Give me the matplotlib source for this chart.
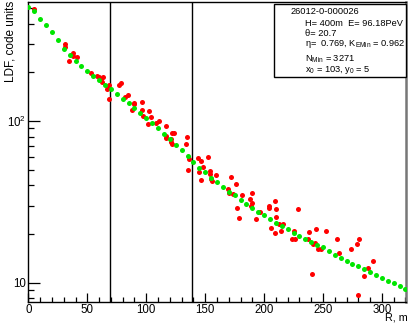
import matplotlib
matplotlib.use('Agg')
import matplotlib.pyplot as plt
from matplotlib.ticker import FixedLocator, FixedFormatter, MultipleLocator, NullFormatter
import numpy as np

plt.rcParams['font.family'] = ['Liberation Sans', 'DejaVu Sans']
plt.rcParams['mathtext.fontset'] = 'custom'
plt.rcParams['mathtext.rm'] = 'Liberation Sans'
plt.rcParams['mathtext.it'] = 'Liberation Sans:italic'

# model LDF (green), every 5 m
r_fit = np.arange(0, 325, 5)
ldf_fit = [509, 481, 429, 394, 355, 317, 280, 257, 235, 218,
           204, 190, 178, 166, 157, 147, 137, 129, 121, 112,
           105, 97.6, 90.8, 83.3, 77.0, 71.0, 66.2, 60.7, 56.0, 51.2,
           48.2, 44.6, 42.0, 38.9, 36.6, 34.7, 32.3, 30.7, 29.0, 27.4,
           26.1, 24.7, 23.5, 22.4, 21.4, 20.4, 19.5, 18.7, 17.9, 17.2,
           16.5, 15.6, 14.9, 14.3, 13.7, 13.1, 12.6, 12.1, 11.6, 11.1,
           10.7, 10.3, 9.96, 9.54, 9.14]

# measured detector values (red)
r_det = [5, 31.1, 30.7, 37.6, 38.1, 41.6, 34.8, 53.0, 58.1, 60.1,
         62.9, 61.5, 62.4, 68.3, 67.1, 66.3, 68.6, 76.7, 78.4, 81.6,
         84.5, 89.4, 90.0, 96.3, 88.2, 96.3, 102.4, 97.3, 104.3, 101.5,
         108.2, 110.5, 117.1, 121.8, 123.3, 116.7, 117.1, 121.1, 121.4, 122.2,
         134.8, 133.9, 136.1, 135.3, 144.1, 146.1, 152.3, 147.8, 144.6, 154.3,
         154.3, 158.9, 146.4, 155.2, 155.9, 171.6, 175.9, 169.5, 170.4, 173.6,
         181.0, 189.7, 188.4, 190.1, 188.7, 176.7, 178.7, 193.5, 196.6, 204.6,
         204.4, 209.1, 210.0, 210.1, 206.3, 208.9, 212.5, 215.9, 214.0, 229.0,
         225.6, 223.9, 226.6, 238.5, 244.3, 237.4, 241.5, 242.9, 245.6, 248.0,
         252.6, 261.7, 263.2, 273.9, 279.0, 280.4, 241.1, 292.6, 288.3, 284.9,
         279.8]
ldf_det = [491, 298, 285, 262, 251, 247, 236, 199, 191, 188,
           187, 183, 173, 168, 162, 157, 136, 167, 171, 141,
           144, 130, 127, 131, 117, 117, 116, 108, 106, 96.2,
           96.9, 99.3, 93.4, 84.1, 84.3, 80.2, 78.3, 77.4, 74.2, 71.6,
           79.3, 72.3, 58.0, 50.0, 58.8, 56.8, 59.9, 52.2, 48.4, 48.9,
           47.0, 46.6, 43.0, 44.0, 42.6, 44.9, 40.6, 38.0, 35.8, 35.3,
           34.7, 35.7, 32.7, 31.1, 29.9, 28.8, 25.2, 24.8, 27.3, 29.9,
           29.0, 31.9, 28.4, 25.6, 21.9, 20.2, 23.0, 23.0, 21.0, 28.5,
           20.9, 18.6, 18.6, 20.5, 21.6, 18.6, 17.3, 17.6, 16.1, 16.1,
           20.8, 18.6, 15.2, 16.1, 17.3, 18.6, 11.3, 13.7, 12.4, 11.0,
           8.4]

r_lines = [69.5, 139]

info = ['26012-0-000026',
        'H= 400m  E= 96.18PeV',
        '\u03b8= 20.7',
        '\u03b7=  0.769, K$_{\\mathregular{EMin}}$ = 0.962',
        'N$_{\\mathregular{Min}}$ = 3271',
        'x$_{\\mathregular{0}}$ = 103, y$_{\\mathregular{0}}$ = 5']

fig = plt.figure(figsize=(4.14, 3.23), dpi=100)
ax = fig.add_axes([0.0688, 0.0641, 0.9119, 0.9288])

ax.scatter(r_det, ldf_det, s=13, color='#ff0000', linewidths=0, zorder=3)
ax.scatter(r_fit, ldf_fit, s=13, color='#00e600', linewidths=0, zorder=4)
for r in r_lines:
    ax.axvline(r, color='black', lw=1.0, zorder=2)

ax.set_yscale('log')
ax.set_xlim(0, 320.5)
ax.set_ylim(7.56, 542)

ax.xaxis.set_major_locator(FixedLocator([0, 50, 100, 150, 200, 250, 300]))
ax.xaxis.set_minor_locator(MultipleLocator(10))
ax.yaxis.set_major_locator(FixedLocator([10, 100]))
ax.yaxis.set_major_formatter(FixedFormatter(['10', '10$^{\\mathregular{2}}$']))
minors = [8, 9] + list(range(20, 100, 10)) + list(range(200, 600, 100))
ax.yaxis.set_minor_locator(FixedLocator(minors))
ax.yaxis.set_minor_formatter(NullFormatter())

ax.tick_params(axis='both', which='both', direction='in', labelsize=8.3, width=0.9)
ax.tick_params(axis='x', which='major', length=6.5, pad=1.5)
ax.tick_params(axis='x', which='minor', length=3.6)
ax.tick_params(axis='y', which='major', length=8.6, pad=2)
ax.tick_params(axis='y', which='minor', length=4.3)
for sp in ax.spines.values():
    sp.set_linewidth(1.0)
ax.spines['right'].set_color('#777777')
ax.spines['right'].set_linewidth(1.8)

fig.text(0.012, 0.998, 'LDF, code units', rotation=90, ha='left', va='top', fontsize=8.5)
fig.text(0.985, 0.0, 'R, m', ha='right', va='bottom', fontsize=7.8)

# info box
box = plt.Rectangle((274 / 414, 1 - 77 / 323), 132 / 414, 73 / 323,
                    transform=fig.transFigure, facecolor='white',
                    edgecolor='black', lw=1.0, zorder=5)
fig.patches.append(box)
ys = [12, 23, 33.5, 44, 59.5, 70.5]
for i, (t, y) in enumerate(zip(info, ys)):
    x0 = 291 if i == 0 else 305
    fig.text(x0 / 414, 1 - y / 323, t, ha='left', va='center', fontsize=6.7, zorder=6)

plt.savefig('out.png', dpi=100)
